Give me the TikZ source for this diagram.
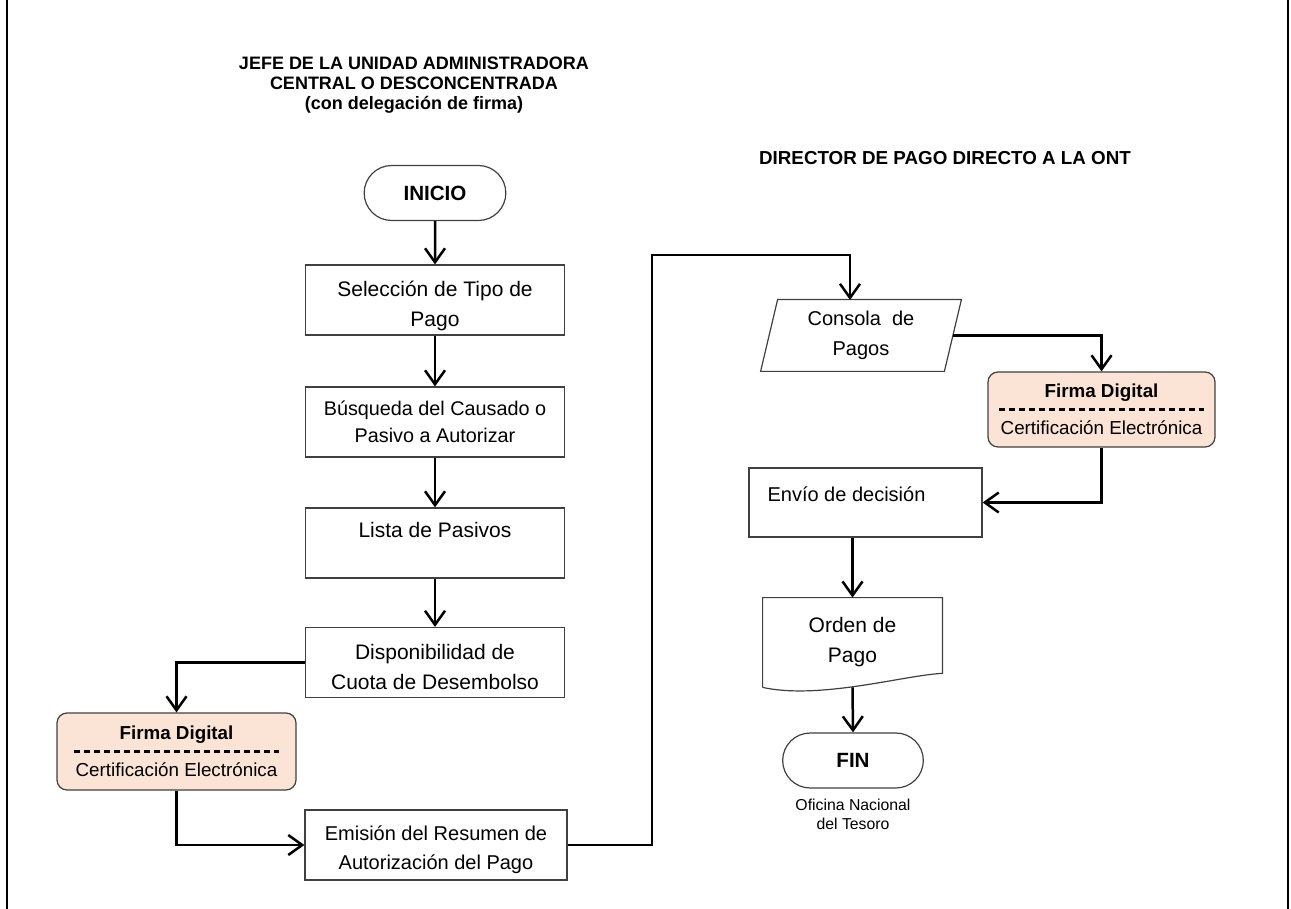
\documentclass[tikz,border=0pt]{standalone}
\usepackage{fontspec}
\setmainfont{Liberation Sans}
\usetikzlibrary{arrows.meta,shapes.misc}
\definecolor{firmafill}{RGB}{251,228,213}
\tikzset{
  proc/.style={draw=black!75, line width=.6pt, minimum width=129.5pt, minimum height=35pt, inner ysep=1pt, align=center, font=\fontsize{10.5}{15}\selectfont},
  term/.style={draw=black!75, line width=.6pt, rounded rectangle, minimum width=77.5pt, minimum height=27.5pt, font=\fontsize{10.3}{12}\selectfont\bfseries},
  firma/.style={draw=black!75, line width=.6pt, rounded corners=5pt, fill=firmafill, minimum width=119.5pt, minimum height=38.5pt, align=center, font=\fontsize{9.4}{18.5}\selectfont},
  flow/.style={line width=1.25pt, -{Straight Barb[length=7pt,width=10pt,line width=1.25pt]}},
  hdr/.style={align=center, font=\fontsize{9}{10}\selectfont\bfseries}
}
\begin{document}
\begin{tikzpicture}[x=.5pt,y=-.5pt]
\useasboundingbox (0,0) rectangle (1291,909);
\draw[line width=1pt] (7,0) -- (7,909) (1288,0) -- (1288,909);

\node[hdr] (jefe) at (414,85) {JEFE DE LA UNIDAD ADMINISTRADORA\\CENTRAL O DESCONCENTRADA\\(con delegación de firma)};
\node[hdr, font=\fontsize{9.4}{10}\selectfont\bfseries] (dir) at (945,158) {DIRECTOR DE PAGO DIRECTO A LA ONT};

\node[term] (inicio) at (435,193) {INICIO};
\node[proc] (b1) at (435,300) {\rule{0pt}{14pt}Selección de Tipo de\\Pago};
\node[proc, font=\fontsize{9.9}{13.5}\selectfont] (b2) at (435,422) {Búsqueda del Causado o\\Pasivo a Autorizar};
\node[proc, text depth=13pt] (b3) at (435,543) {Lista de Pasivos};
\node[proc] (b4) at (435,662.5) {\rule{0pt}{12pt}Disponibilidad de\\Cuota de Desembolso};
\node[firma] (f1) at (176.5,751.5) {\textbf{Firma Digital}\\Certificación Electrónica};
\node[proc, minimum width=131pt, font=\fontsize{10}{14.5}\selectfont] (b5) at (436,845) {\rule{0pt}{12pt}Emisión del Resumen de\\Autorización del Pago};

\node[minimum width=91.5pt, minimum height=35.5pt, align=center, font=\fontsize{10}{15}\selectfont] (consola) at (861,335.5) {Consola\ \ de\\Pagos};
\draw[black!75, line width=.6pt] ([xshift=4.25pt]consola.north west) -- ([xshift=4.25pt]consola.north east) -- ([xshift=-4.25pt]consola.south east) -- ([xshift=-4.25pt]consola.south west) -- cycle;
\node[firma, minimum width=113.5pt, minimum height=37.5pt] (f2) at (1101.5,409.5) {\textbf{Firma Digital}\\Certificación Electrónica};
\node[proc, minimum width=116.5pt, minimum height=34.5pt, text depth=8pt, font=\fontsize{10}{15}\selectfont] (env) at (865.5,502.5) {Envío de decisión\hspace*{19pt}};
\node[minimum width=89.5pt, minimum height=44.5pt, align=center, font=\fontsize{10.5}{15}\selectfont] (orden) at (852.5,642.5) {Orden de\\Pago};
\draw[black!75, line width=.6pt] (orden.south west) -- (orden.north west) -- (orden.north east) -- ([yshift=7pt]orden.south east) .. controls (905,675) and (820,700) .. (orden.south west);
\node[term, minimum width=77pt] (fin) at (853,760.5) {FIN};
\node[align=center, font=\fontsize{7.9}{9.5}\selectfont] (ont) at (853,814) {Oficina Nacional\\del Tesoro};

\foreach \f/\s in {f1/9pt, f2/6pt}
{
    \draw[dash pattern=on 3pt off 2pt, line width=1.4pt] ([xshift=\s]\f.west) -- ([xshift=-\s]\f.east);
}

\foreach \a/\b in {inicio/b1, b1/b2, b2/b3, b3/b4}
{
    \draw[flow] (\a) -- (\b);
}
\draw[flow] (b4.west) -| (f1.north);
\draw[flow] (f1.south) |- (b5.west);
\coordinate (up) at (652,255);
\coordinate (cin) at (850,300);
\draw[flow] (b5.east) -| (up) -| (cin);
\draw[flow] (consola.east) -| (f2.north);
\draw[flow] (f2.south) |- (env.east);
\draw[flow] (env.south -| orden.north) -- (orden.north);
\draw[flow] (orden.south) -- (fin.north);
\end{tikzpicture}
\end{document}
